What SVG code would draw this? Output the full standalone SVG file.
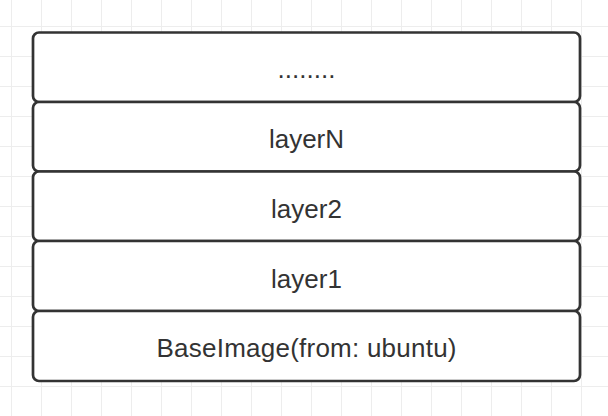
<svg xmlns="http://www.w3.org/2000/svg" width="608" height="416" viewBox="0 0 608 416">
<defs>
<pattern id="grid" x="11" y="26" width="30" height="30" patternUnits="userSpaceOnUse">
<path d="M0.5 0V30M0 0.5H30" fill="none" stroke="#ededed" stroke-width="1"/>
</pattern>
</defs>
<style>
.layer{fill:#ffffff;stroke:#333333;stroke-width:2.7}
.lbl{font-family:"Liberation Sans",Arial,sans-serif;font-size:26px;fill:#333333;text-anchor:middle}
</style>
<rect width="608" height="416" fill="#ffffff"/>
<rect width="608" height="416" fill="url(#grid)"/>
<g id="connectors"></g>
<g id="node-dots">
<rect class="layer" x="33" y="32.5" width="547" height="69.5" rx="6"/>
<text class="lbl" x="306.5" y="78">........</text>
</g>
<g id="node-layerN">
<rect class="layer" x="33" y="102" width="547" height="69.5" rx="6"/>
<text class="lbl" x="306.5" y="148">layerN</text>
</g>
<g id="node-layer2">
<rect class="layer" x="33" y="171.5" width="547" height="69.5" rx="6"/>
<text class="lbl" x="306.5" y="218">layer2</text>
</g>
<g id="node-layer1">
<rect class="layer" x="33" y="241" width="547" height="70" rx="6"/>
<text class="lbl" x="306.5" y="288">layer1</text>
</g>
<g id="node-base">
<rect class="layer" x="33" y="311" width="547" height="70" rx="6"/>
<text class="lbl" x="306.5" y="357" textLength="300" lengthAdjust="spacing">BaseImage(from: ubuntu)</text>
</g>
</svg>
